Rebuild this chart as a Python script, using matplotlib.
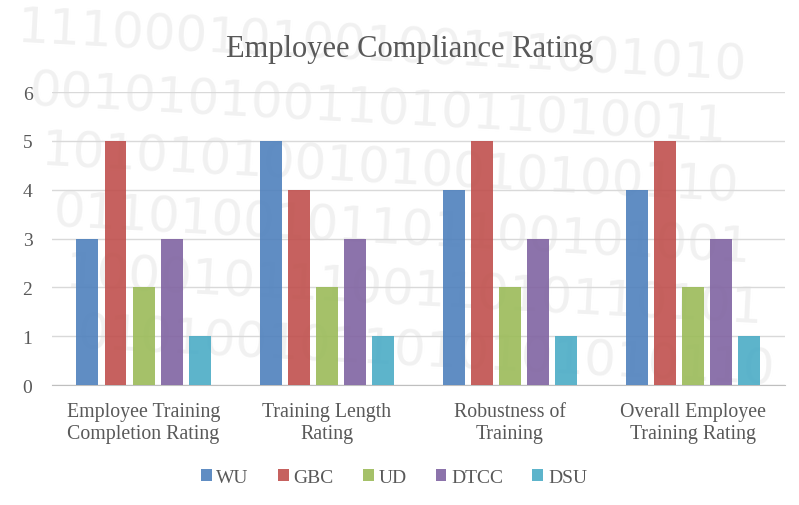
import numpy as np
import matplotlib.pyplot as plt

categories = ["Employee Training\nCompletion Rating", "Training Length\nRating",
              "Robustness of\nTraining", "Overall Employee\nTraining Rating"]
schools = ["WU", "GBC", "UD", "DTCC", "DSU"]
wu = [3, 5, 4, 4]
gbc = [5, 4, 5, 5]
ud = [2, 2, 2, 2]
dtcc = [3, 3, 3, 3]
dsu = [1, 1, 1, 1]
colors = ["#4f81bd", "#c0504d", "#9bbb59", "#8064a2", "#4bacc6"]

plt.rcParams['font.family'] = ['Liberation Serif', 'DejaVu Serif']
txt = "#595959"

fig = plt.figure(figsize=(7.99, 5.06), dpi=100)

# faint binary watermark in the background
bg = fig.add_axes([0, 0, 1, 1], zorder=0)
bg.axis('off')
rows = ["11100010100100111001010", "0010101001101011010011",
        "1010101001010010100110", "0110100101101100101001",
        "1000101110011010110101", "0101001011010101010110"]
for i, r in enumerate(rows):
    bg.text(0.02 + 0.015 * i, 0.84 - 0.12 * i, r, fontsize=36, color="#f1f1f1",
            family="DejaVu Sans", rotation=-3, transform=bg.transAxes)

ax = fig.add_axes([0.065, 0.237, 0.917, 0.579], zorder=1)
ax.patch.set_alpha(0)
x = np.arange(len(categories))
w = 0.12
step = 0.153
for i, (vals, name) in enumerate(zip([wu, gbc, ud, dtcc, dsu], schools)):
    ax.bar(x + (i - 2) * step, vals, w, color=colors[i], alpha=0.9, label=name, zorder=3)

ax.set_xlim(-0.5, 3.5)
ax.set_ylim(0, 6)
ax.set_yticks(range(7))
ax.set_xticks(x)
ax.set_xticklabels(categories, fontsize=14.3, color=txt, linespacing=1.2)
ax.tick_params(axis='y', labelsize=14, colors=txt, length=0, pad=14)
ax.tick_params(axis='x', length=0, pad=12)
ax.grid(axis='y', color="#d9d9d9", linewidth=1, zorder=0)
for s in ['top', 'right', 'left']:
    ax.spines[s].set_visible(False)
ax.spines['bottom'].set_color("#bfbfbf")

fig.text(0.513, 0.903, "Employee Compliance Rating", ha='center', va='center',
         fontsize=22, color=txt)
fig.legend(loc='center', bbox_to_anchor=(0.493, 0.055), ncol=5, frameon=False,
           fontsize=14, handlelength=0.55, handleheight=0.55, handletextpad=0.25,
           columnspacing=1.5, labelcolor=txt)

fig.savefig("out.png", dpi=100)
